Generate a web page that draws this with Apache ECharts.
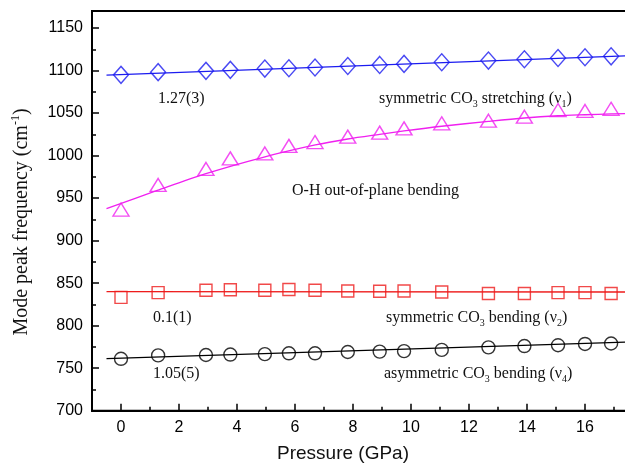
<!DOCTYPE html>
<html>
<head>
<meta charset="utf-8">
<script src="https://cdn.jsdelivr.net/npm/echarts@6/dist/echarts.min.js"></script>
<style>html,body{margin:0;padding:0;background:#fff;}#c{width:625px;height:465px;}</style>
</head>
<body>
<div id="c"></div>
<script>
// Pressure (GPa) of each measurement
const pressure = [0, 1.28, 2.93, 3.77, 4.96, 5.79, 6.69, 7.82, 8.92, 9.76, 11.06, 12.67, 13.91, 15.07, 16.0, 16.9];
// Mode peak frequencies (cm-1)
const nu1 = [1094.9, 1098.1, 1099.6, 1100.8, 1102.3, 1102.7, 1103.5, 1105.4, 1106.6, 1107.8, 1109.7, 1111.7, 1113.2, 1114.8, 1115.6, 1116.7];
const ohBend = [936.5, 965.5, 984.3, 996.7, 1002.5, 1011.4, 1015.9, 1022.3, 1027, 1032, 1037.9, 1041, 1045.7, 1053.5, 1052.5, 1055];
const nu2 = [833.3, 838.8, 841.7, 842.3, 841.7, 842.5, 841.7, 840.8, 840.4, 840.8, 839.6, 837.8, 837.8, 838.8, 838.8, 837.8];
const nu4 = [761, 765, 765.5, 766, 766.5, 767.5, 767.5, 769, 769.5, 770, 771.5, 774.5, 776, 777, 778.5, 779];
// fitted curves
const fitNu1X = [-0.5, 17.5], fitNu1Y = [1094.7, 1117.5];
const fitNu2X = [-0.5, 17.5], fitNu2Y = [840, 839.6];
const fitNu4X = [-0.5, 17.5], fitNu4Y = [761.3, 780.7];
const fitOhX = [-0.5, 1.25, 2.9, 4.9, 6.7, 7.82, 8.92, 9.76, 11.06, 12.67, 13.91, 15.07, 16.0, 16.9, 17.5];
const fitOhY = [937.5, 959, 978.5, 998, 1012.5, 1019.5, 1025, 1029, 1034.5, 1040.2, 1044.2, 1046.8, 1048, 1049, 1049.3];
// tick labels
const xTickLabels = [0, 2, 4, 6, 8, 10, 12, 14, 16];
const yTickLabels = [700, 750, 800, 850, 900, 950, 1000, 1050, 1100, 1150];
// slope labels
const slopeLabels = ['1.27(3)', '0.1(1)', '1.05(5)'];

const zip = (xs, ys) => xs.map((x, i) => [x, ys[i]]);

const chart = echarts.init(document.getElementById('c'), null, {renderer: 'canvas'});

function scatter(name, ys, symbol, size, color) {
  return {
    type: 'scatter', name, data: zip(pressure, ys), symbol, symbolSize: size,
    itemStyle: {color: 'rgba(0,0,0,0)', borderColor: color, borderWidth: 1.4},
    z: 3, silent: true
  };
}
function fit(xs, ys, color, smooth) {
  return {
    type: 'line', data: zip(xs, ys), symbol: 'none', smooth: smooth || false,
    lineStyle: {color, width: 1.3}, z: 2, silent: true
  };
}

const serifFont = '"Liberation Serif", "Times New Roman", serif';
const sansFont = '"Liberation Sans", Arial, sans-serif';
const ann = (x, y, text, rich) => ({
  type: 'text', x, y, silent: true,
  style: {
    text, fill: '#111', font: '16px ' + serifFont, textVerticalAlign: 'middle',
    rich: rich ? {
      n: {fontSize: 16, fontFamily: serifFont, lineHeight: 20, verticalAlign: 'middle', fill: '#111'},
      s: {fontSize: 10, fontFamily: serifFont, lineHeight: 10, verticalAlign: 'bottom', fill: '#111'}
    } : undefined
  }
});

chart.setOption({
  animation: false,
  backgroundColor: '#fff',
  grid: {left: 92, top: 11, width: 536.5, height: 399.7, show: true, borderColor: '#000', borderWidth: 2,
         containLabel: false, outerBoundsMode: 'none'},
  xAxis: {
    type: 'value', min: -1, max: 17.5, interval: 2,
    axisLine: {show: true, onZero: false, lineStyle: {color: '#000', width: 2}},
    axisTick: {show: true, inside: true, length: 4, lineStyle: {color: '#000', width: 1.5}},
    minorTick: {show: true, splitNumber: 2, length: 7, lineStyle: {color: '#000', width: 1.5}},
    axisLabel: {customValues: xTickLabels, color: '#000', fontSize: 16, fontFamily: sansFont, margin: 9},
    splitLine: {show: false}
  },
  yAxis: {
    type: 'value', min: 700, max: 1170, interval: 50,
    axisLine: {show: true, onZero: false, lineStyle: {color: '#000', width: 2}},
    axisTick: {show: true, inside: true, length: 7, lineStyle: {color: '#000', width: 1.5}},
    minorTick: {show: true, splitNumber: 2, length: 4, lineStyle: {color: '#000', width: 1.5}},
    axisLabel: {
      color: '#000', fontSize: 16, fontFamily: sansFont, margin: 9,
      formatter: v => yTickLabels.indexOf(v) >= 0 ? String(v) : ''
    },
    splitLine: {show: false}
  },
  series: [
    fit(fitNu1X, fitNu1Y, '#1c1cf0'),
    fit(fitOhX, fitOhY, '#f020f0', 0.3),
    fit(fitNu2X, fitNu2Y, '#ee1c1c'),
    fit(fitNu4X, fitNu4Y, '#000'),
    scatter('nu1', nu1, 'diamond', [15, 17], '#1c1cf0'),
    scatter('oh', ohBend, 'triangle', [16, 13], '#f020f0'),
    scatter('nu2', nu2, 'rect', [12, 12], '#ee1c1c'),
    scatter('nu4', nu4, 'circle', 13, '#000')
  ],
  graphic: [
    ann(158, 99, slopeLabels[0]),
    ann(379, 99, '{n|symmetric CO}{s|3}{n| stretching (ν}{s|1}{n|)}', true),
    ann(292, 191, 'O-H out-of-plane bending'),
    ann(153, 318, slopeLabels[1]),
    ann(386, 318, '{n|symmetric CO}{s|3}{n| bending (ν}{s|2}{n|)}', true),
    ann(153, 374, slopeLabels[2]),
    ann(384, 374, '{n|asymmetric CO}{s|3}{n| bending (ν}{s|4}{n|)}', true),
    {
      type: 'text', x: 343, y: 454, silent: true,
      style: {text: 'Pressure (GPa)', font: '19px ' + sansFont, fill: '#111', textAlign: 'center', textVerticalAlign: 'middle'}
    },
    {
      type: 'text', x: 22, y: 222, rotation: Math.PI / 2, silent: true,
      style: {
        text: '{n|Mode peak frequency (cm}{p|-1}{n|)}', textAlign: 'center', textVerticalAlign: 'middle', fill: '#111',
        font: '20px ' + serifFont,
        rich: {
          n: {fontSize: 20, fontFamily: serifFont, lineHeight: 24, verticalAlign: 'middle', fill: '#111'},
          p: {fontSize: 12, fontFamily: serifFont, lineHeight: 12, verticalAlign: 'top', fill: '#111'}
        }
      }
    }
  ]
});
</script>
</body>
</html>
